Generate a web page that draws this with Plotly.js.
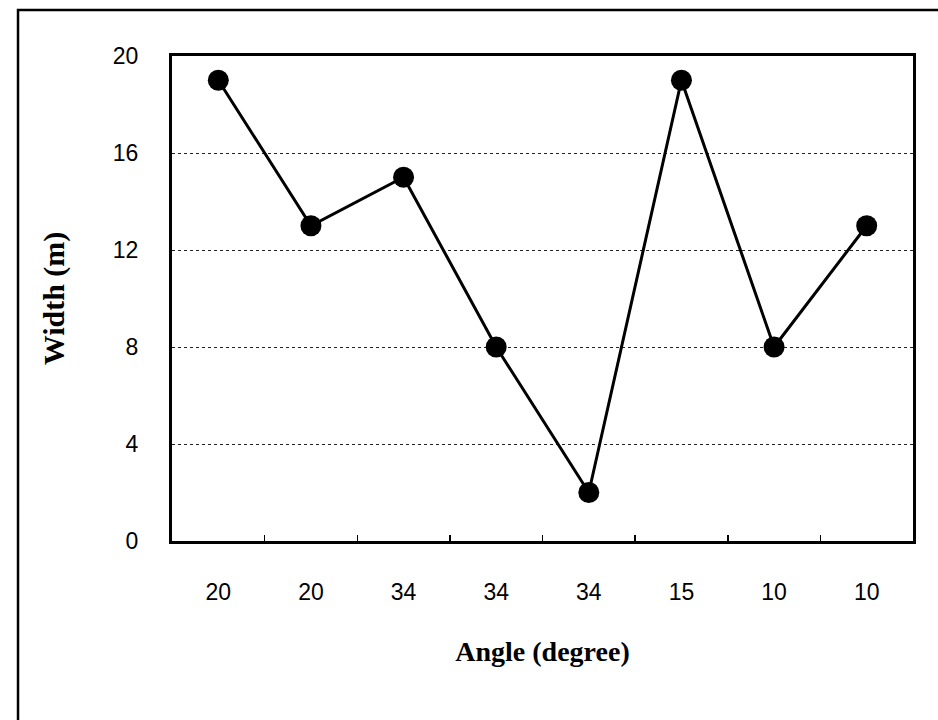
<!DOCTYPE html>
<html>
<head>
<meta charset="utf-8">
<script src="https://cdn.plot.ly/plotly-3.0.1.min.js"></script>
<style>
html,body{margin:0;padding:0;background:#fff;}
#chart{width:938px;height:720px;}
</style>
</head>
<body>
<div id="chart"></div>
<script>
// Data
const categoryIndex = [0, 1, 2, 3, 4, 5, 6, 7];
const angleLabels = ["20", "20", "34", "34", "34", "15", "10", "10"];
const widthValues = [19, 13, 15, 8, 2, 19, 8, 13];
const yTicks = [0, 4, 8, 12, 16, 20];

const trace = {
  x: categoryIndex,
  y: widthValues,
  type: "scatter",
  mode: "lines+markers",
  line: {color: "#000", width: 3},
  marker: {color: "#000", size: 21},
  showlegend: false,
  hoverinfo: "skip"
};

const layout = {
  width: 938,
  height: 720,
  margin: {l: 172, r: 25, t: 56, b: 179},
  paper_bgcolor: "#fff",
  plot_bgcolor: "#fff",
  font: {family: "Liberation Sans, Arial, sans-serif", color: "#000"},
  xaxis: {
    range: [-0.5, 7.5],
    tickmode: "array",
    tickvals: categoryIndex,
    ticktext: angleLabels,
    showgrid: false,
    zeroline: false,
    showline: true,
    linecolor: "#000",
    linewidth: 3,
    mirror: true,
    ticks: "",
    tickfont: {size: 23, family: "Liberation Sans, Arial, sans-serif"},
    ticklabelstandoff: 28,
    title: {
      text: "Angle (degree)",
      font: {size: 28, family: "Liberation Serif, Times New Roman, serif", weight: "bold"},
      standoff: 38
    }
  },
  xaxis2: {
    overlaying: "x",
    matches: "x",
    range: [-0.5, 7.5],
    tickmode: "array",
    tickvals: [0.5, 1.5, 2.5, 3.5, 4.5, 5.5, 6.5],
    showticklabels: false,
    ticks: "inside",
    ticklen: 6,
    tickwidth: 1.5,
    tickcolor: "#000",
    showgrid: false,
    zeroline: false,
    side: "bottom",
    anchor: "y"
  },
  yaxis: {
    range: [0, 20],
    tickmode: "array",
    tickvals: yTicks,
    ticktext: yTicks.map(String),
    showgrid: true,
    gridcolor: "#222",
    gridwidth: 1,
    griddash: "dot",
    zeroline: false,
    showline: true,
    linecolor: "#000",
    linewidth: 3,
    mirror: true,
    ticks: "",
    tickfont: {size: 23, family: "Liberation Sans, Arial, sans-serif"},
    ticklabelstandoff: 26,
    title: {
      text: "Width (m)",
      font: {size: 30, family: "Liberation Serif, Times New Roman, serif", weight: "bold"},
      standoff: 40
    }
  },
  shapes: [{
    type: "rect",
    xref: "paper", yref: "paper",
    x0: -0.2078, x1: 1.05,
    y0: -0.40, y1: 1.0948,
    line: {color: "#000", width: 2.5},
    fillcolor: "rgba(0,0,0,0)",
    layer: "above"
  }]
};

const ghost = {
  x: categoryIndex,
  y: widthValues,
  xaxis: "x2",
  yaxis: "y",
  type: "scatter",
  mode: "none",
  showlegend: false,
  hoverinfo: "skip"
};

Plotly.newPlot("chart", [trace, ghost], layout, {displayModeBar: false, staticPlot: true});
</script>
</body>
</html>
